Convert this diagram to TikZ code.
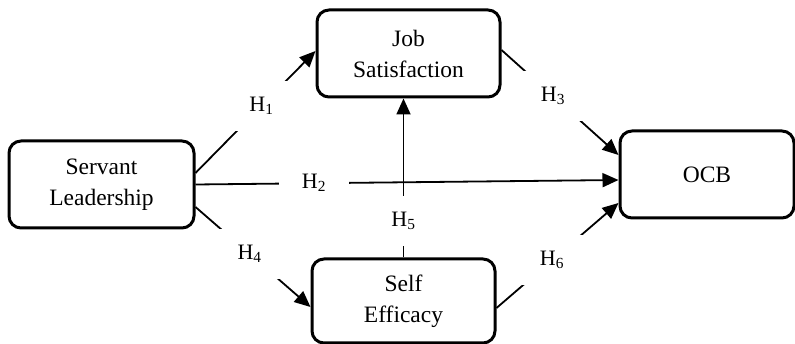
\documentclass[tikz,border=0pt]{standalone}
\usepackage{fontspec}
\setmainfont{Liberation Serif}
\usetikzlibrary{arrows.meta}

\begin{document}
\begin{tikzpicture}[x=1pt,y=-1pt,
  box/.style={draw, line width=3pt, rounded corners=12pt, align=center, font=\fontsize{23.5}{31}\selectfont},
  link/.style={line width=1.8pt, -{Triangle[length=16pt,width=14pt]}},
  hyp/.style={fill=white, minimum width=70pt, minimum height=50pt, inner sep=0pt, font=\fontsize{22}{24}\selectfont}]
\useasboundingbox (0,0) rectangle (795,344);
\node[box, minimum width=185pt, minimum height=87pt] (lead) at (101.5,184.5) {Servant\\Leadership};
\node[box, minimum width=183pt, minimum height=87pt] (job) at (408.5,53.5) {Job\\Satisfaction};
\node[box, minimum width=174pt, minimum height=87pt] (ocb) at (707,174.5) {OCB};
\node[box, minimum width=183pt, minimum height=84pt] (eff) at (403.5,301) {Self\\Efficacy};
\draw[link] ([yshift=11.5pt]lead.east) -- node[hyp, pos=0.55] {H\textsubscript{1}} ([yshift=2.5pt]job.west);
\draw[link] (lead.east) -- node[hyp, pos=0.28] {H\textsubscript{2}} ([yshift=-5.5pt]ocb.west);
\draw[link] ([yshift=3.5pt]job.east) -- node[hyp, pos=0.44] {H\textsubscript{3}} ([yshift=19.5pt]ocb.west);
\draw[link] ([yshift=-22.5pt]lead.east) -- node[hyp, pos=0.47] {H\textsubscript{4}} ([yshift=-6pt]eff.west);
\draw[link] (eff.north) -- node[hyp, pos=0.23] {H\textsubscript{5}} (eff.north |- job.south);
\draw[link] ([yshift=-7pt]eff.east) -- node[hyp, pos=0.455] {H\textsubscript{6}} ([yshift=-28.5pt]ocb.west);
\end{tikzpicture}
\end{document}
